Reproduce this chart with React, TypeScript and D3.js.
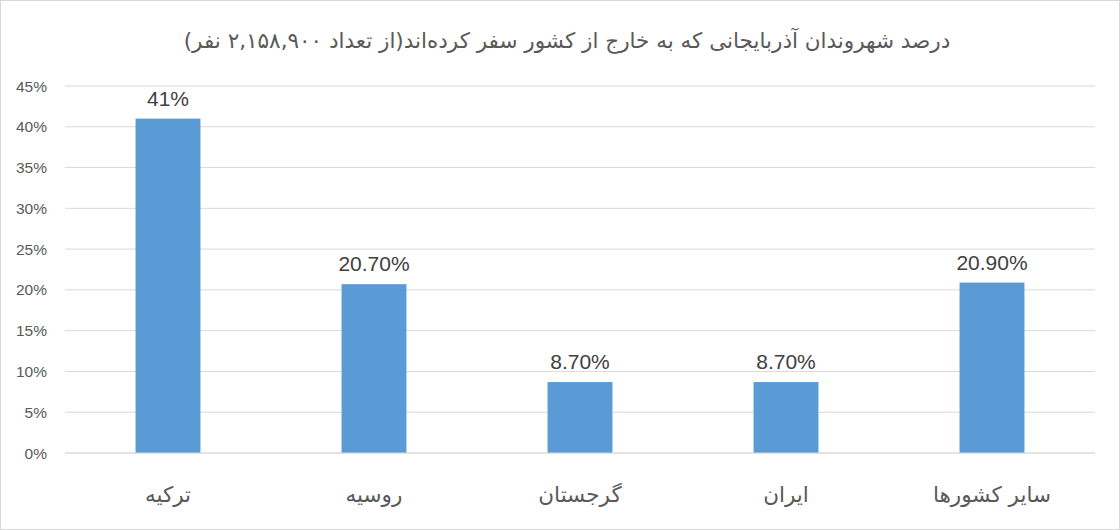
import React from "react";
import * as d3 from "d3";

const title = "درصد شهروندان آذربایجانی که به خارج از کشور سفر کرده‌اند(از تعداد ۲,۱۵۸,۹۰۰ نفر)";
const categories = ["ترکیه", "روسیه", "گرجستان", "ایران", "سایر کشورها"];
const values = [41, 20.7, 8.7, 8.7, 20.9];
const valueLabels = ["41%", "20.70%", "8.70%", "8.70%", "20.90%"];
const yTicks = [0, 5, 10, 15, 20, 25, 30, 35, 40, 45];

const W = 1120, H = 530;
const plot = { left: 65, right: 1095, top: 86, bottom: 453 };

export default function App() {
  const x = d3.scaleBand<string>().domain(categories).range([plot.left, plot.right]).padding(0);
  const y = d3.scaleLinear().domain([0, 45]).range([plot.bottom, plot.top]);
  const bw = x.step() * 0.315;
  const latin = "'Liberation Sans', Arial, sans-serif";
  const arabic = "'DejaVu Sans', 'Noto Sans', sans-serif";
  return (
    <svg width={W} height={H} style={{ position: "absolute", left: 0, top: 0, background: "#fff" }}>
      <rect x={0.5} y={0.5} width={W - 1} height={H - 1} fill="#fff" stroke="#d9d9d9" />
      <text x={W / 2 + 7} y={48} textAnchor="middle" direction="rtl" fontFamily={arabic} fontSize={21.5} fill="#595959">{title}</text>
      {yTicks.map((t) => (
        <g key={t}>
          <line x1={plot.left} x2={plot.right} y1={y(t)} y2={y(t)} stroke="#d9d9d9" strokeWidth={1} />
          <text x={47} y={y(t) + 5.5} textAnchor="end" fontFamily={latin} fontSize={15.5} fill="#595959">{t}%</text>
        </g>
      ))}
      {categories.map((c, i) => {
        const cx = (x(c) as number) + x.bandwidth() / 2;
        return (
          <g key={c}>
            <rect x={cx - bw / 2} y={y(values[i])} width={bw} height={y(0) - y(values[i])} fill="#5b9bd5" />
            <text x={cx} y={y(values[i]) - 13} textAnchor="middle" fontFamily={latin} fontSize={21} fill="#404040">{valueLabels[i]}</text>
            <text x={cx} y={502} textAnchor="middle" direction="rtl" fontFamily={arabic} fontSize={21.5} fill="#595959">{c}</text>
          </g>
        );
      })}
      <line x1={plot.left} x2={plot.right} y1={y(0)} y2={y(0)} stroke="#d9d9d9" strokeWidth={1} />
    </svg>
  );
}
